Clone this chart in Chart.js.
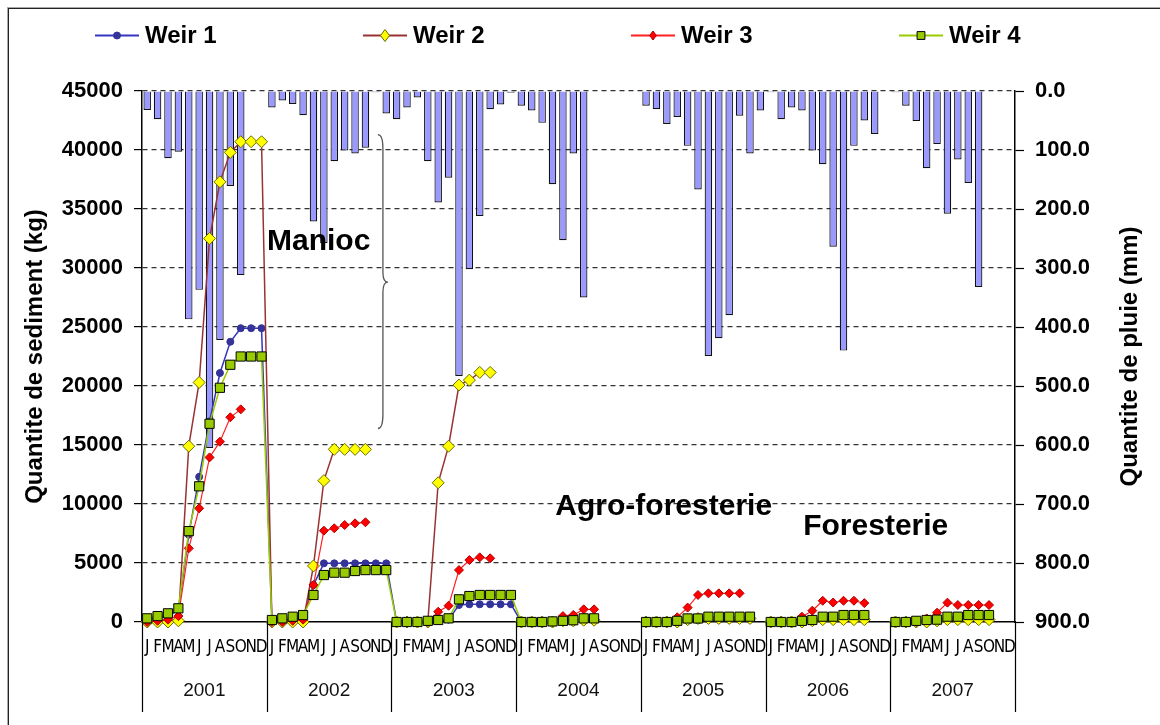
<!DOCTYPE html>
<html>
<head>
<meta charset="utf-8">
<script src="https://cdn.jsdelivr.net/npm/chart.js@4.4.1/dist/chart.umd.min.js"></script>
<style>
  html, body { margin: 0; padding: 0; background: #fff; }
  #wrap { position: relative; width: 1160px; height: 725px; overflow: hidden; background: #fff; }
  #c { position: absolute; left: 0; top: 0; }
  #frame { position: absolute; left: 8px; top: 8px; right: -4px; bottom: -4px;
           border-left: 1px solid #222; border-top: 1px solid #222;
           box-shadow: -1px -1px 0 #aaa; pointer-events: none; }
  #legend { position: absolute; left: 95px; top: 0; height: 70px; display: flex; }
  #legend .item { width: 268px; height: 70px; display: flex; align-items: center; }
  #legend .item span { font: bold 24px 'Liberation Sans', Arial, sans-serif; color: #000; margin-left: 6px; }
</style>
</head>
<body>
<div id="wrap">
  <canvas id="c" width="1160" height="725"></canvas>
  <div id="legend"></div>
  <div id="frame"></div>
</div>
<script>
// ---------------- DATA ----------------
const months = ['J','F','M','A','M','J','J','A','S','O','N','D'];
const years  = ['2001','2002','2003','2004','2005','2006','2007'];
const seriesNames = ['Weir 1','Weir 2','Weir 3','Weir 4'];

// monthly rainfall (mm), Jan..Dec for 2001..2007
const rainfall = [
  32, 48, 114, 103, 387, 337, 605, 422, 161, 312, 0, 0,
  28, 16, 22, 41, 221, 258, 119, 101, 106, 96, 2, 38,
  48, 28, 11, 119, 189, 147, 483, 302, 212, 31, 23, 3,
  25, 33, 54, 158, 253, 106, 350, 0, 0, 0, 0, 0,
  25, 31, 56, 44, 93, 167, 449, 419, 380, 42, 106, 33,
  2, 48, 28, 33, 101, 124, 264, 440, 93, 50, 73, 0,
  2, 25, 51, 131, 90, 208, 116, 156, 332, 0, 0, 0
];

// cumulative sediment (kg)
const weir1 = [
  200, 350, 500, 1000, 7400, 12300, 17000, 21100, 23750, 24900, 24900, 24900,
  100, 150, 250, 400, 3140, 4970, 4970, 4970, 4970, 4970, 4970, 4970,
  0, 0, 0, 0, 100, 200, 1440, 1500, 1500, 1500, 1500, 1500,
  0, 0, 0, 0, 0, 0, 100, 100, null, null, null, null,
  0, 0, 0, 0, 100, 150, 200, 200, 200, 200, 200, null,
  0, 0, 0, 0, 100, 200, 200, 300, 300, 300, null, null,
  0, 0, 0, 0, 100, 200, 200, 300, 300, 300, null, null
];
const weir2 = [
  0, 0, 0, 100, 14900, 20300, 32500, 37300, 39800, 40700, 40700, 40700,
  0, 0, 0, 0, 4750, 11980, 14630, 14630, 14630, 14630, null, null,
  0, 0, 0, 0, 11800, 14900, 20080, 20500, 21150, 21150, null, null,
  0, 0, 0, 0, 100, 100, 150, 150, null, null, null, null,
  0, 0, 0, 0, 200, 300, 300, 300, 300, 300, 300, null,
  0, 0, 0, 0, 100, 200, 200, 200, 200, 200, null, null,
  0, 0, 0, 0, 100, 200, 200, 200, 200, 200, null, null
];
const weir3 = [
  0, 100, 200, 500, 6240, 9630, 13950, 15280, 17350, 18020, null, null,
  0, 0, 100, 200, 3140, 7740, 7940, 8220, 8360, 8450, null, null,
  0, 0, 0, 0, 870, 1380, 4400, 5250, 5480, 5400, null, null,
  0, 0, 0, 0, 500, 600, 1070, 1070, null, null, null, null,
  0, 0, 0, 400, 1220, 2290, 2430, 2430, 2430, 2430, null, null,
  0, 0, 0, 450, 960, 1800, 1650, 1800, 1800, 1600, null, null,
  0, 0, 0, 300, 790, 1640, 1440, 1440, 1440, 1440, null, null
];
const weir4 = [
  310, 500, 735, 1160, 7700, 11500, 16800, 19850, 21800, 22500, 22500, 22500,
  170, 310, 450, 590, 2290, 3980, 4180, 4180, 4320, 4400, 4400, 4400,
  0, 0, 0, 100, 170, 310, 1920, 2200, 2290, 2290, 2290, 2290,
  0, 0, 0, 50, 100, 150, 310, 310, null, null, null, null,
  0, 0, 0, 100, 300, 300, 450, 450, 450, 450, 450, null,
  0, 0, 0, 100, 170, 450, 450, 590, 590, 590, null, null,
  0, 0, 100, 170, 200, 450, 450, 590, 590, 590, null, null
];

// annotations, placed in data units (month index, kg)
const notes = [
  { text: 'Manioc',          month: 16.5, kg: 32200 },
  { text: 'Agro-foresterie', month: 49.7, kg: 9750 },
  { text: 'Foresterie',      month: 70.1, kg: 8050 }
];
const brace = { month: 22.2, top: 41300, tip: 28800, bottom: 16400 };

// ---------------- CHART ----------------
const monthLabels = years.flatMap(() => months);
const FONT = "'Liberation Sans', Arial, sans-serif";
Chart.defaults.font.family = FONT;
Chart.defaults.color = '#000';

const lineStyles = [
  { color: '#3535C0', pt: 'circle',  fill: '#333399', edge: '#333399', r: 3.5, w: 1.5 },
  { color: '#993333', pt: 'rectRot', fill: '#FFFF00', edge: '#6B6B00', r: 6,   w: 1.5 },
  { color: '#FF2020', pt: 'rectRot', fill: '#FF0000', edge: '#B00000', r: 4.5, w: 1.2 },
  { color: '#99CC00', pt: 'rect',    fill: '#99CC00', edge: '#000000', r: 6.5, w: 1.5 }
];
const lineData = [weir1, weir2, weir3, weir4];

const datasets = [{
  type: 'bar',
  label: 'Pluie',
  data: rainfall,
  yAxisID: 'y2',
  xAxisID: 'x',
  backgroundColor: '#9999FF',
  borderColor: '#111111',
  borderWidth: 1.2,
  barPercentage: 0.72,
  categoryPercentage: 1.0,
  order: 10
}];
seriesNames.forEach((name, i) => {
  const s = lineStyles[i];
  datasets.push({
    type: 'line',
    label: name,
    data: lineData[i],
    yAxisID: 'y',
    xAxisID: 'x',
    borderColor: s.color,
    borderWidth: s.w,
    backgroundColor: s.fill,
    pointStyle: s.pt,
    pointRadius: s.r,
    pointHoverRadius: s.r,
    pointBackgroundColor: s.fill,
    pointBorderColor: s.edge,
    pointBorderWidth: 1,
    tension: 0,
    spanGaps: false,
    fill: false,
    clip: 10,
    order: 4 - i
  });
});

const extras = {
  id: 'extras',
  afterDatasetsDraw(chart) {
    const { ctx } = chart;
    const x = chart.scales.x, y = chart.scales.y, x2 = chart.scales.x2, y2 = chart.scales.y2;
    ctx.save();
    // brace
    const bx = x.getPixelForValue(brace.month);
    const t = y.getPixelForValue(brace.top), m = y.getPixelForValue(brace.tip), b = y.getPixelForValue(brace.bottom);
    const w = 5;
    ctx.strokeStyle = '#555';
    ctx.lineWidth = 1.3;
    ctx.beginPath();
    ctx.moveTo(bx, t);
    ctx.quadraticCurveTo(bx + w, t, bx + w, t + 14);
    ctx.lineTo(bx + w, m - 10);
    ctx.quadraticCurveTo(bx + w, m, bx + 2 * w, m);
    ctx.quadraticCurveTo(bx + w, m, bx + w, m + 10);
    ctx.lineTo(bx + w, b - 14);
    ctx.quadraticCurveTo(bx + w, b, bx, b);
    ctx.stroke();
    // text notes
    ctx.fillStyle = '#000';
    ctx.font = 'bold 30px ' + FONT;
    ctx.textAlign = 'center';
    ctx.textBaseline = 'middle';
    notes.forEach(n => ctx.fillText(n.text, x.getPixelForValue(n.month), y.getPixelForValue(n.kg)));
    ctx.restore();
  },
  afterDraw(chart) {
    const { ctx } = chart;
    const x = chart.scales.x, x2 = chart.scales.x2, y2 = chart.scales.y2;
    ctx.save();
    // year separators in the category axis area
    ctx.strokeStyle = '#000';
    ctx.lineWidth = 1.2;
    for (let k = 0; k <= years.length; k++) {
      const px = Math.round(x.getPixelForValue(k * months.length - 0.5)) + 0.5;
      ctx.beginPath();
      ctx.moveTo(px, x.top);
      ctx.lineTo(px, x2.bottom);
      ctx.stroke();
    }
    // right axis title (reads bottom to top)
    ctx.translate(y2.right - 30, (y2.top + y2.bottom) / 2);
    ctx.rotate(-Math.PI / 2);
    ctx.font = 'bold 24px ' + FONT;
    ctx.fillStyle = '#000';
    ctx.textAlign = 'center';
    ctx.textBaseline = 'middle';
    ctx.fillText('Quantite de pluie (mm)', 0, 0);
    ctx.restore();
  }
};

const chart = new Chart(document.getElementById('c'), {
  data: { labels: monthLabels, datasets },
  options: {
    responsive: false,
    animation: false,
    layout: { padding: { top: 91, left: 0, right: 0, bottom: 13 } },
    plugins: { legend: { display: false }, tooltip: { enabled: false } },
    scales: {
      x: {
        type: 'category',
        position: 'bottom',
        offset: true,
        grid: { display: false, drawTicks: false },
        border: { display: true, color: '#000', width: 1.5 },
        ticks: {
          autoSkip: false, maxRotation: 0, minRotation: 0, padding: 15,
          font: { family: "'Liberation Sans Narrow', 'DejaVu Sans Condensed', 'Liberation Sans', Arial, sans-serif", size: 17 },
          color: '#000'
        },
        afterFit(s) { s.height = 45; }
      },
      x2: {
        type: 'category',
        position: 'bottom',
        labels: years,
        offset: true,
        grid: { display: false, drawTicks: false },
        border: { display: false },
        ticks: { autoSkip: false, maxRotation: 0, minRotation: 0, padding: 12, font: { size: 19 }, color: '#111' },
        afterFit(s) { s.height = 45; }
      },
      y: {
        type: 'linear',
        position: 'left',
        min: 0, max: 45000,
        ticks: { stepSize: 5000, padding: 11, font: { size: 22, weight: 'bold' }, color: '#000',
                 callback: v => String(v) },
        grid: {
          color: c => (c.tick && c.tick.value === 0) ? 'rgba(0,0,0,0)' : '#333',
          lineWidth: 1.2,
          tickLength: 8, tickColor: '#000', tickWidth: 1.2, tickBorderDash: []
        },
        border: { display: true, color: '#000', width: 1.5, dash: [5, 4] },
        title: { display: true, text: 'Quantite de sediment (kg)', font: { size: 24, weight: 'bold' },
                 color: '#000', padding: { top: 21, bottom: 0 } },
        afterFit(s) { s.width = 142; }
      },
      y2: {
        type: 'linear',
        position: 'right',
        reverse: true,
        min: 0, max: 900,
        ticks: { stepSize: 100, padding: 11, font: { size: 22, weight: 'bold' }, color: '#000',
                 callback: v => Number(v).toFixed(1) },
        grid: { drawOnChartArea: false, drawTicks: true, tickLength: 9, tickColor: '#000', tickWidth: 1.2 },
        border: { display: true, color: '#000', width: 1.5 },
        afterFit(s) { s.width = 145; }
      }
    }
  },
  plugins: [extras]
});

// HTML legend built from the chart's line datasets
const legendEl = document.getElementById('legend');
chart.data.datasets.filter(d => d.type === 'line').forEach(d => {
  const item = document.createElement('div');
  item.className = 'item';
  const cv = document.createElement('canvas');
  cv.width = 44; cv.height = 20;
  const g = cv.getContext('2d');
  g.strokeStyle = d.borderColor; g.lineWidth = 2;
  g.beginPath(); g.moveTo(0, 10.5); g.lineTo(44, 10.5); g.stroke();
  g.fillStyle = d.pointBackgroundColor; g.strokeStyle = d.pointBorderColor; g.lineWidth = 1;
  g.beginPath();
  const r = d.pointRadius;
  if (d.pointStyle === 'circle') { g.arc(22, 10.5, r, 0, Math.PI * 2); }
  else if (d.pointStyle === 'rectRot') { g.moveTo(22, 10.5 - r); g.lineTo(22 + r * 0.75, 10.5); g.lineTo(22, 10.5 + r); g.lineTo(22 - r * 0.75, 10.5); g.closePath(); }
  else { const h = r * 0.6; g.rect(22 - h, 10.5 - h, 2 * h, 2 * h); }
  g.fill(); g.stroke();
  const sp = document.createElement('span');
  sp.textContent = d.label;
  item.appendChild(cv); item.appendChild(sp);
  legendEl.appendChild(item);
});
</script>
</body>
</html>
